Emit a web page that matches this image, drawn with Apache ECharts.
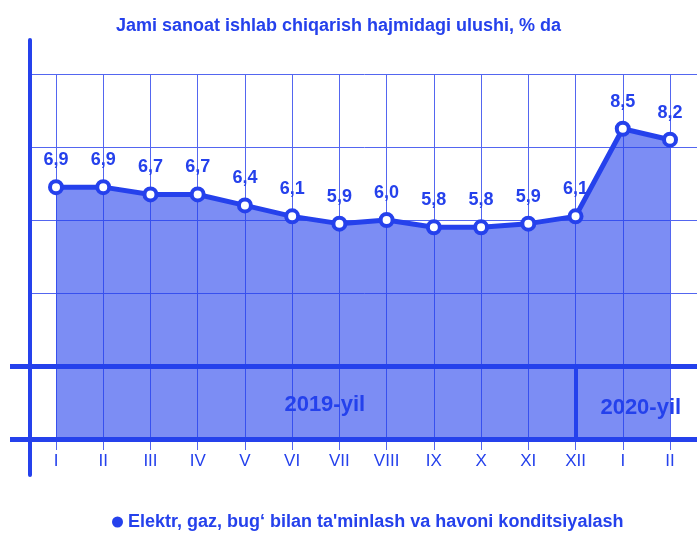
<!DOCTYPE html>
<html>
<head>
<meta charset="utf-8">
<script src="https://cdn.jsdelivr.net/npm/echarts@6/dist/echarts.min.js"></script>
<style>
  html, body { margin: 0; padding: 0; background: #fff; }
  #chart_share { width: 697px; height: 533px; }
</style>
</head>
<body>
<div id="chart_share"></div>
<script>
var titleText = 'Jami sanoat ishlab chiqarish hajmidagi ulushi, % da';
var seriesName = 'Elektr, gaz, bug\u2018 bilan ta\'minlash va havoni konditsiyalash';
var months = ['I', 'II', 'III', 'IV', 'V', 'VI', 'VII', 'VIII', 'IX', 'X', 'XI', 'XII', 'I', 'II'];
var shares = [6.9, 6.9, 6.7, 6.7, 6.4, 6.1, 5.9, 6.0, 5.8, 5.8, 5.9, 6.1, 8.5, 8.2];
var yearLabels = ['2019-yil', '2020-yil'];
var yearBand = [0, 2];

var blue = '#2541ec';
var gridBlue = '#5366f0';
var font = "'Liberation Sans', Arial, sans-serif";

var last = months.length - 1;
var hidden = {show: false};

var option = {
    backgroundColor: '#fff',
    animation: false,
    title: {
        text: titleText,
        left: 116,
        top: 17,
        padding: 0,
        textStyle: {color: blue, fontFamily: font, fontWeight: 'bold', fontSize: 18}
    },
    legend: {
        data: [{name: seriesName, itemStyle: {color: blue, borderColor: blue, borderWidth: 0}}],
        left: 112,
        top: 513,
        padding: 0,
        icon: 'circle',
        itemWidth: 11,
        itemHeight: 11,
        textStyle: {color: blue, fontFamily: font, fontWeight: 'bold', fontSize: 18}
    },
    grid: [
        // thin horizontal lines
        {left: 32, right: 0, top: 74, bottom: 94, outerBoundsMode: 'none'},
        // data
        {left: 56, right: 27, top: 74, bottom: 94, outerBoundsMode: 'none'},
        // vertical axis line
        {left: 30, width: 1, top: 40, bottom: 58, outerBoundsMode: 'none'},
        // thick horizontal bands
        {left: 10, right: 0, top: 74, bottom: 94, outerBoundsMode: 'none'}
    ],
    xAxis: [
        {gridIndex: 0, type: 'value', show: false},
        {
            gridIndex: 1,
            type: 'category',
            data: months,
            boundaryGap: false,
            axisLine: hidden,
            axisTick: {show: true, length: 11, lineStyle: {color: gridBlue, width: 1}},
            splitLine: {show: true, lineStyle: {color: gridBlue, width: 1}},
            axisLabel: {color: blue, fontFamily: font, fontSize: 17, margin: 14, interval: 0}
        },
        {gridIndex: 2, type: 'value', show: false},
        {gridIndex: 3, type: 'value', show: false}
    ],
    yAxis: [
        {
            gridIndex: 0, type: 'value', min: 0, max: 10, interval: 2,
            axisLine: hidden, axisTick: hidden, axisLabel: hidden,
            splitLine: {show: true, lineStyle: {color: gridBlue, width: 1}}
        },
        {gridIndex: 1, type: 'value', min: 0, max: 10, show: false},
        {
            gridIndex: 2, type: 'value', min: 0, max: 1,
            axisLine: {show: true, lineStyle: {color: blue, width: 4}},
            axisTick: hidden, axisLabel: hidden, splitLine: hidden
        },
        {gridIndex: 3, type: 'value', min: 0, max: 10, show: false}
    ],
    series: [
        {
            type: 'line',
            name: 'bands',
            xAxisIndex: 3,
            yAxisIndex: 3,
            data: [],
            silent: true,
            markLine: {
                silent: true,
                symbol: 'none',
                label: hidden,
                lineStyle: {color: blue, width: 5, type: 'solid'},
                data: [{yAxis: yearBand[0]}, {yAxis: yearBand[1]}]
            }
        },
        {
            type: 'line',
            name: seriesName,
            xAxisIndex: 1,
            yAxisIndex: 1,
            data: shares,
            symbol: 'circle',
            symbolSize: 12,
            lineStyle: {color: blue, width: 5},
            itemStyle: {color: '#fff', borderColor: blue, borderWidth: 4},
            areaStyle: {color: 'rgba(37, 65, 236, 0.6)', opacity: 1, origin: 'start'},
            label: {
                show: true,
                position: 'top',
                distance: 10,
                color: blue,
                fontFamily: font,
                fontWeight: 'bold',
                fontSize: 18,
                formatter: function (p) {
                    return p.value.toFixed(1).replace('.', ',');
                }
            },
            z: 5,
            markLine: {
                silent: true,
                symbol: 'none',
                label: hidden,
                lineStyle: {color: blue, width: 4, type: 'solid'},
                data: [[{coord: [11, yearBand[0]]}, {coord: [11, yearBand[1]]}]]
            },
            markArea: {
                silent: true,
                itemStyle: {color: 'rgba(0,0,0,0)'},
                label: {
                    position: 'inside',
                    color: blue,
                    fontFamily: font,
                    fontWeight: 'bold',
                    fontSize: 22
                },
                data: [
                    [{name: yearLabels[0], coord: [0, yearBand[0]], label: {offset: [9, 2]}}, {coord: [11, yearBand[1]]}],
                    [{name: yearLabels[1], coord: [11, yearBand[0]], label: {offset: [18, 5]}}, {coord: [last, yearBand[1]]}]
                ]
            }
        }
    ]
};

var chart_share = echarts.init(document.getElementById('chart_share'));
chart_share.setOption(option);
</script>
</body>
</html>
